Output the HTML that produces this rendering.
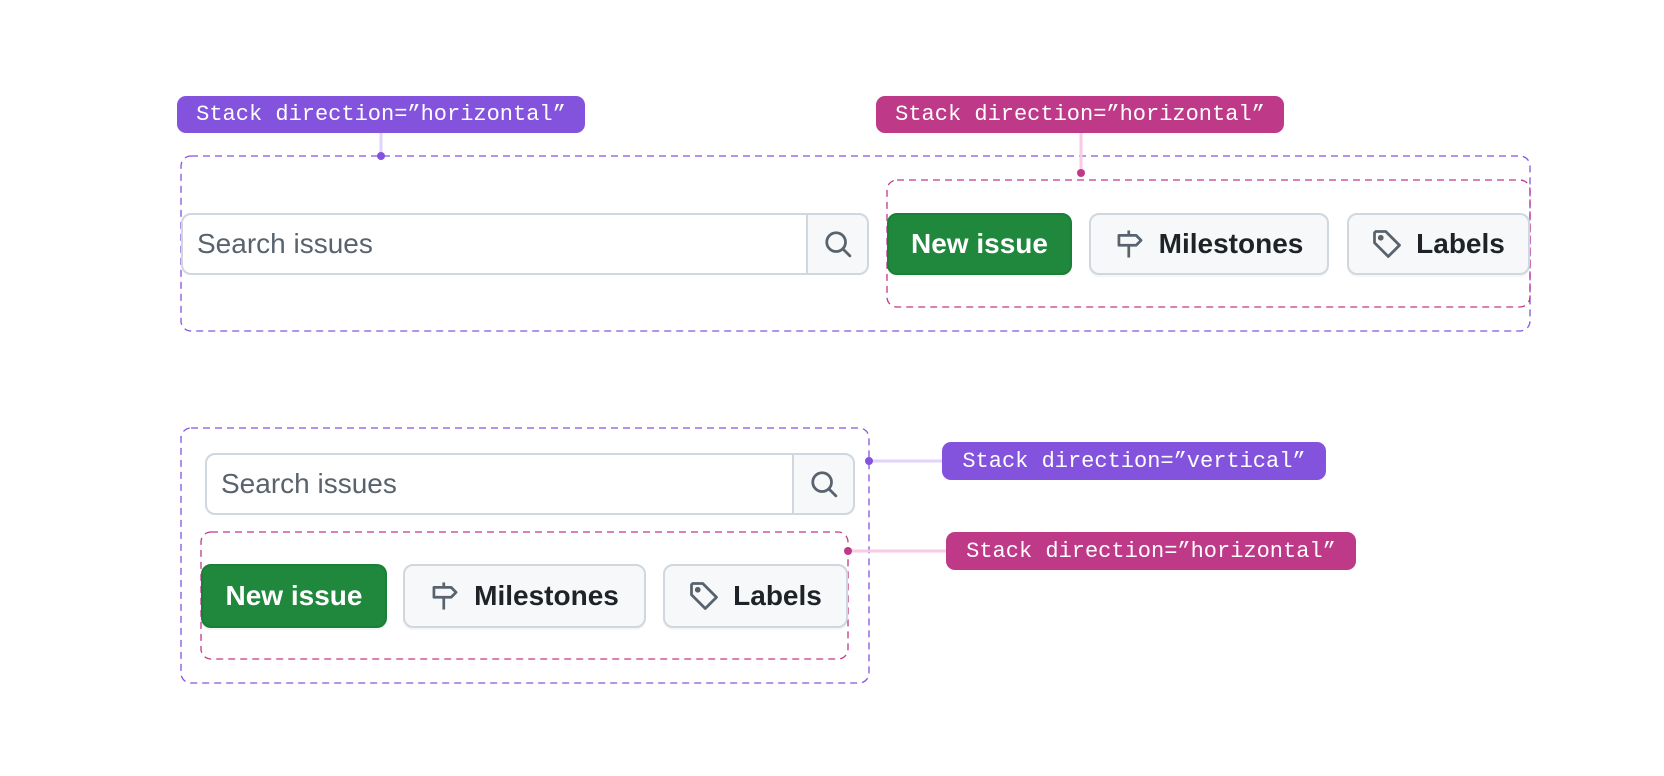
<!DOCTYPE html>
<html><head><meta charset="utf-8"><style>
body{margin:0;width:1664px;height:776px;background:#fff;position:relative;overflow:hidden;font-family:"Liberation Sans",sans-serif}
.a{position:absolute;box-sizing:border-box}
.lab{position:absolute;box-sizing:border-box;color:#fff;font-family:"Liberation Mono",monospace;font-size:22px;letter-spacing:0;border-radius:9px;display:flex;align-items:center;justify-content:center;white-space:nowrap}
.pur{background:#8453de}.pnk{background:#bf3989}
.inp{border:2px solid #d0d7de;border-radius:10px 0 0 10px;background:#fff;color:#59636e;font-size:28px;display:flex;align-items:center;padding-left:14px}
.sb{border:2px solid #d0d7de;border-radius:0 10px 10px 0;background:#f6f8fa;display:flex;align-items:center;justify-content:center}
.btn{border:2px solid #d0d7de;border-radius:10px;background:#f6f8fa;color:#1f2328;font-size:28px;font-weight:bold;display:flex;align-items:center;justify-content:center;gap:14px;box-shadow:0 2px 0 rgba(31,35,40,0.04)}
.grn{background:#1f883d;border-color:#1a7f37;color:#fff}
</style></head><body>
<svg class="a" style="left:0;top:0" width="1664" height="776">
<g fill="none" stroke-width="1.3" stroke-dasharray="7 5">
<rect x="181" y="156" width="1349" height="175" rx="10" stroke="#8453de"/>
<rect x="887" y="180" width="643" height="127" rx="10" stroke="#bf3989"/>
<rect x="181" y="428" width="688" height="255" rx="10" stroke="#8453de"/>
<rect x="201" y="532" width="647" height="127" rx="10" stroke="#bf3989"/>
</g>
<line x1="381" y1="133" x2="381" y2="156" stroke="#e2d3fb" stroke-width="3"/>
<line x1="1081" y1="133" x2="1081" y2="173" stroke="#fbc9e4" stroke-width="3"/>
<line x1="869" y1="461" x2="942" y2="461" stroke="#e2d3fb" stroke-width="3"/>
<line x1="848" y1="551" x2="946" y2="551" stroke="#fbc9e4" stroke-width="3"/>
<circle cx="381" cy="156" r="4" fill="#8453de"/>
<circle cx="1081" cy="173" r="4" fill="#bf3989"/>
<circle cx="869" cy="461" r="4" fill="#8453de"/>
<circle cx="848" cy="551" r="4" fill="#bf3989"/>
</svg>
<div class="lab pur" style="left:177px;top:96px;width:408px;height:37px">Stack direction=”horizontal”</div>
<div class="lab pnk" style="left:876px;top:96px;width:408px;height:37px">Stack direction=”horizontal”</div>
<div class="lab pur" style="left:942px;top:442px;width:384px;height:38px">Stack direction=”vertical”</div>
<div class="lab pnk" style="left:946px;top:532px;width:410px;height:38px">Stack direction=”horizontal”</div>

<div class="a inp" style="left:181px;top:213px;width:627px;height:62px">Search issues</div>
<div class="a sb" style="left:806px;top:213px;width:63px;height:62px"><svg width="30" height="30" viewBox="0 0 24 24" fill="none" stroke="#59636e" stroke-width="2.2" stroke-linecap="round"><circle cx="10.5" cy="10.5" r="7.5"/><line x1="16" y1="16" x2="21.5" y2="21.5"/></svg></div>
<div class="a btn grn" style="left:887px;top:213px;width:185px;height:62px">New issue</div>
<div class="a btn" style="left:1089px;top:213px;width:240px;height:62px"><svg width="30" height="32" viewBox="0 0 24 26" fill="none" stroke="#59636e" stroke-width="2.2" stroke-linejoin="round"><path d="M3 6h14l4 4-4 4H3z"/><line x1="11" y1="2" x2="11" y2="6"/><line x1="11" y1="14" x2="11" y2="24"/></svg>Milestones</div>
<div class="a btn" style="left:1347px;top:213px;width:183px;height:62px"><svg width="30" height="30" viewBox="0 0 24 24" fill="none" stroke="#59636e" stroke-width="2.2" stroke-linejoin="round"><path d="M2 3v8l11 11 9-9L11 2H3z"/><circle cx="7" cy="7" r="1.2" fill="#59636e"/></svg>Labels</div>

<div class="a inp" style="left:205px;top:453px;width:589px;height:62px">Search issues</div>
<div class="a sb" style="left:792px;top:453px;width:63px;height:62px"><svg width="30" height="30" viewBox="0 0 24 24" fill="none" stroke="#59636e" stroke-width="2.2" stroke-linecap="round"><circle cx="10.5" cy="10.5" r="7.5"/><line x1="16" y1="16" x2="21.5" y2="21.5"/></svg></div>
<div class="a btn grn" style="left:201px;top:564px;width:186px;height:64px">New issue</div>
<div class="a btn" style="left:403px;top:564px;width:243px;height:64px"><svg width="30" height="32" viewBox="0 0 24 26" fill="none" stroke="#59636e" stroke-width="2.2" stroke-linejoin="round"><path d="M3 6h14l4 4-4 4H3z"/><line x1="11" y1="2" x2="11" y2="6"/><line x1="11" y1="14" x2="11" y2="24"/></svg>Milestones</div>
<div class="a btn" style="left:663px;top:564px;width:185px;height:64px"><svg width="30" height="30" viewBox="0 0 24 24" fill="none" stroke="#59636e" stroke-width="2.2" stroke-linejoin="round"><path d="M2 3v8l11 11 9-9L11 2H3z"/><circle cx="7" cy="7" r="1.2" fill="#59636e"/></svg>Labels</div>
</body></html>
